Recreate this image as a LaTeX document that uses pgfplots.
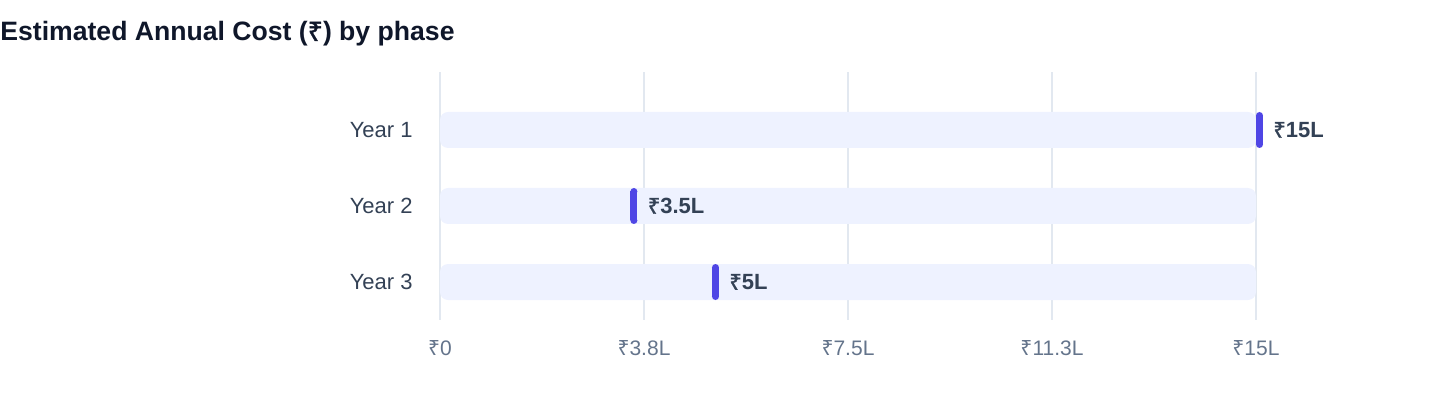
\documentclass[border=0pt]{standalone}
\usepackage{pgfplots}
\pgfplotsset{compat=1.18}
\usepackage{fontspec}
\setmainfont{Liberation Sans}
\newfontfamily\rs{Noto Sans}
\newfontfamily\rsb{Noto Sans}[FakeBold=1.6]
\newcommand{\R}{{\rs ₹}}
\newcommand{\Rb}{{\rsb ₹}}

\definecolor{titlecol}{HTML}{0F172A}
\definecolor{labcol}{HTML}{334155}
\definecolor{tickcol}{HTML}{64748B}
\definecolor{gridcol}{HTML}{E2E8F0}
\definecolor{trackcol}{HTML}{EEF2FF}
\definecolor{markcol}{HTML}{4F46E5}

% pill marker that starts at the value and runs to the right
\pgfdeclareplotmark{pill}{%
  \pgfpathrectanglecorners{\pgfpoint{0pt}{-7.25pt}}{\pgfpoint{3.5pt}{7.25pt}}%
  \pgfusepathqfill
  \pgfpathcircle{\pgfpoint{1.75pt}{7.25pt}}{1.75pt}%
  \pgfusepathqfill
  \pgfpathcircle{\pgfpoint{1.75pt}{-7.25pt}}{1.75pt}%
  \pgfusepathqfill}

\begin{document}
\begin{tikzpicture}
\begin{axis}[
    scale only axis,
    width=408pt, height=124pt,
    xmin=0, xmax=15,
    ymin=0.5, ymax=3.763,
    axis line style={draw=none},
    major tick length=0pt,
    xtick={0,3.75,7.5,11.25,15},
    xticklabels={\R0,\R3.8L,\R7.5L,\R11.3L,\R15L},
    ytick={1,2,3},
    yticklabels={Year 3,Year 2,Year 1},
    xmajorgrids=true,
    grid style={gridcol, line width=0.6pt},
    xticklabel style={font=\fontsize{10.5}{12}\selectfont, text=tickcol, inner sep=0pt, anchor=north, yshift=-10pt},
    yticklabel style={font=\fontsize{11}{13}\selectfont, text=labcol, inner sep=0pt, anchor=east, xshift=-13.5pt},
    title={Estimated Annual Cost (\Rb) by phase},
    title style={font=\bfseries\fontsize{13.3}{15}\selectfont, text=titlecol, inner sep=0pt,
                 anchor=west, at={(rel axis cs:0,1)}, xshift=-220pt, yshift=13pt},
    clip=false,
]
% background track
\addplot[xbar, bar width=18pt, bar shift=0pt, fill=trackcol, draw=none, rounded corners=4pt]
  coordinates {(15,3) (15,2) (15,1)};
% value markers with labels
\addplot[only marks, mark=pill, mark options={fill=markcol, draw=none},
  point meta=explicit symbolic,
  nodes near coords,
  nodes near coords style={anchor=west, xshift=8.5pt, inner sep=0pt,
    font=\bfseries\fontsize{11}{13}\selectfont, text=labcol}]
  coordinates {(15,3) [\Rb15L] (3.5,2) [\Rb3.5L] (5,1) [\Rb5L]};
\end{axis}
\pgfresetboundingbox
\path ([xshift=-220pt,yshift=-44pt]current axis.south west) rectangle ([xshift=92pt,yshift=36pt]current axis.north east);
\end{tikzpicture}
\end{document}
